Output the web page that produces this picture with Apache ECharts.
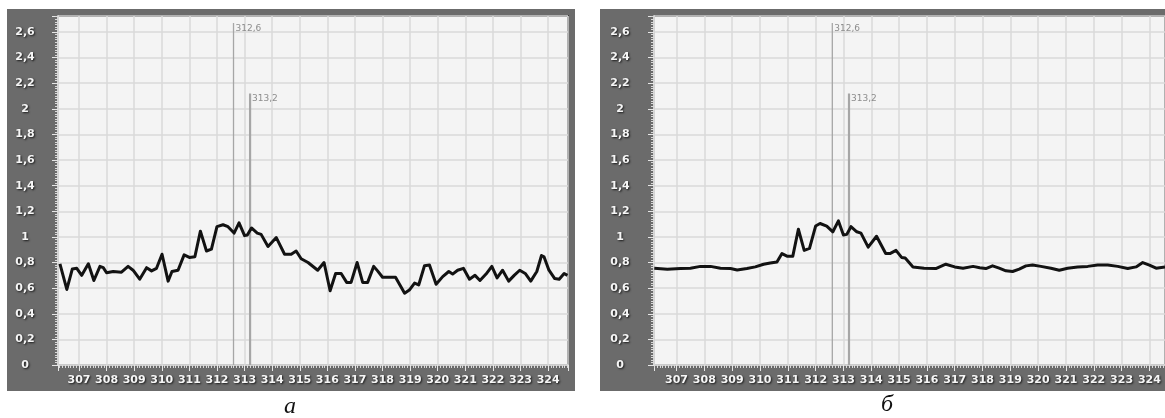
<!DOCTYPE html>
<html>
<head>
<meta charset="utf-8">
<script src="https://cdn.jsdelivr.net/npm/echarts@6/dist/echarts.min.js"></script>
<style>
  html, body { margin: 0; padding: 0; background: #ffffff; }
  #chart { width: 1165px; height: 418px; }
</style>
</head>
<body>
<div id="chart"></div>
<script>
// Spectrum (а): raw signal, wavelength and intensity
const xA = [306.31, 306.56, 306.76, 306.92, 307.10, 307.34, 307.54, 307.76, 307.88, 308.00,
            308.24, 308.54, 308.78, 308.96, 309.20, 309.45, 309.63, 309.81, 310.01, 310.23,
            310.37, 310.59, 310.81, 311.00, 311.20, 311.40, 311.62, 311.80, 312.00, 312.22,
            312.40, 312.62, 312.80, 313.00, 313.10, 313.25, 313.46, 313.60, 313.85, 314.15,
            314.45, 314.69, 314.87, 315.05, 315.30, 315.65, 315.88, 316.10, 316.30, 316.50,
            316.70, 316.86, 317.08, 317.28, 317.46, 317.68, 317.82, 318.00, 318.47, 318.80,
            318.97, 319.16, 319.31, 319.52, 319.70, 319.94, 320.18, 320.40, 320.54, 320.72,
            320.93, 321.15, 321.35, 321.53, 321.75, 321.96, 322.15, 322.35, 322.57, 322.77,
            322.97, 323.17, 323.37, 323.59, 323.76, 323.85, 324.03, 324.24, 324.40, 324.58,
            324.70];
const yA = [0.79, 0.59, 0.75, 0.755, 0.70, 0.79, 0.66, 0.77, 0.76, 0.72,
            0.73, 0.725, 0.77, 0.74, 0.67, 0.76, 0.735, 0.755, 0.865, 0.655,
            0.73, 0.74, 0.86, 0.84, 0.845, 1.045, 0.89, 0.905, 1.08, 1.095,
            1.08, 1.03, 1.11, 1.01, 1.015, 1.07, 1.03, 1.02, 0.925, 0.995,
            0.865, 0.865, 0.89, 0.83, 0.80, 0.74, 0.80, 0.58, 0.715, 0.715,
            0.645, 0.645, 0.80, 0.645, 0.645, 0.77, 0.735, 0.685, 0.685, 0.56,
            0.585, 0.64, 0.625, 0.775, 0.78, 0.63, 0.69, 0.73, 0.71, 0.74,
            0.755, 0.67, 0.70, 0.66, 0.71, 0.77, 0.68, 0.74, 0.655, 0.70,
            0.74, 0.715, 0.655, 0.73, 0.855, 0.845, 0.74, 0.675, 0.67, 0.715,
            0.70];

// Spectrum (б): smoothed signal
const xB = [306.20, 306.67, 307.14, 307.50, 307.86, 308.22, 308.58, 308.94, 309.18, 309.53,
            309.83, 310.13, 310.37, 310.61, 310.79, 310.97, 311.18, 311.38, 311.59, 311.78,
            312.00, 312.16, 312.40, 312.62, 312.82, 313.00, 313.12, 313.27, 313.48, 313.63,
            313.89, 314.19, 314.52, 314.67, 314.89, 315.09, 315.22, 315.36, 315.50, 315.90,
            316.32, 316.68, 317.00, 317.30, 317.66, 317.90, 318.12, 318.36, 318.60, 318.84,
            319.08, 319.32, 319.56, 319.80, 320.10, 320.46, 320.76, 321.06, 321.42, 321.78,
            322.14, 322.50, 322.86, 323.22, 323.52, 323.76, 324.00, 324.24, 324.56];
const yB = [0.755, 0.748, 0.753, 0.756, 0.77, 0.77, 0.756, 0.753, 0.742, 0.753,
            0.766, 0.787, 0.797, 0.805, 0.87, 0.85, 0.85, 1.06, 0.895, 0.91,
            1.085, 1.105, 1.085, 1.04, 1.125, 1.015, 1.02, 1.08, 1.04, 1.03,
            0.92, 1.005, 0.87, 0.87, 0.895, 0.84, 0.835, 0.80, 0.766, 0.756,
            0.753, 0.787, 0.766, 0.756, 0.77, 0.76, 0.753, 0.774, 0.756, 0.735,
            0.73, 0.748, 0.774, 0.78, 0.77, 0.756, 0.74, 0.756, 0.766, 0.77,
            0.78, 0.78, 0.77, 0.753, 0.766, 0.80, 0.78, 0.756, 0.766];

// Vertical cursor lines with their captions
const markerX = [312.6, 313.2];
const markerTop = [2.67, 2.12];
const markerText = ['312,6', '313,2'];
const markerWidth = [1.3, 2.2];

const captions = ['а', 'б'];

// Axis ranges of the two panels
const xRangeA = [306.24, 324.72];
const xRangeB = [306.19, 324.56];
const yRange = [0, 2.725];

const zip = (xs, ys) => xs.map((x, i) => [x, ys[i]]);

const labelFont = {
  color: '#f6f6f6',
  fontFamily: 'DejaVu Sans',
  fontWeight: 'bold',
  fontSize: 11,
  textShadowColor: '#1a1a1a',
  textShadowBlur: 2,
  textShadowOffsetX: 1,
  textShadowOffsetY: 1
};

function xAxisFor(idx, range) {
  return {
    type: 'value', gridIndex: idx, min: range[0], max: range[1],
    minInterval: 1, maxInterval: 1, splitNumber: 18,
    axisLine: { show: true, onZero: false, lineStyle: { color: '#d4d4d4', width: 1.5 } },
    axisTick: { show: true, length: 6, lineStyle: { color: '#e6e6e6' } },
    minorTick: { show: true, splitNumber: 10, length: 3, lineStyle: { color: '#dadada' } },
    splitLine: { show: true, lineStyle: { color: '#dadada', width: 1.5 } },
    axisLabel: Object.assign({
      margin: 10, showMinLabel: false, showMaxLabel: false,
      formatter: v => Math.abs(v - Math.round(v)) < 1e-6 ? String(Math.round(v)) : ''
    }, labelFont)
  };
}

function yAxisFor(idx, margin) {
  return {
    type: 'value', gridIndex: idx, min: yRange[0], max: yRange[1], interval: 0.2,
    axisLine: { show: true, lineStyle: { color: '#d4d4d4', width: 2 } },
    axisTick: { show: true, length: 6, lineStyle: { color: '#e6e6e6' } },
    minorTick: { show: true, splitNumber: 10, length: 3, lineStyle: { color: '#dadada' } },
    splitLine: { show: true, lineStyle: { color: '#dadada', width: 1.5 } },
    axisLabel: Object.assign({
      margin: margin, align: 'center', showMaxLabel: false,
      formatter: v => v > 2.65 ? '' : String(+v.toFixed(1)).replace('.', ',')
    }, labelFont)
  };
}

function spectrum(idx, xs, ys) {
  return {
    type: 'line', xAxisIndex: idx, yAxisIndex: idx, data: zip(xs, ys),
    showSymbol: false, z: 5, animation: false,
    lineStyle: { color: '#121212', width: 3, join: 'round' }
  };
}

function markers(idx) {
  return markerX.map((x, i) => ({
    type: 'line', xAxisIndex: idx, yAxisIndex: idx, z: 3, animation: false,
    lineStyle: { color: '#a6a6a6', width: markerWidth[i] },
    symbol: 'circle', symbolSize: 0.01, showSymbol: true,
    itemStyle: { color: 'rgba(0,0,0,0)' },
    data: [
      [x, yRange[0]],
      { value: [x, markerTop[i]],
        label: { show: true, formatter: markerText[i], position: [2, 1],
                 align: 'left', verticalAlign: 'top',
                 color: '#8c8c8c', fontFamily: 'DejaVu Sans', fontSize: 9 } }
    ]
  }));
}

const chart = echarts.init(document.getElementById('chart'), null, { renderer: 'canvas' });

chart.setOption({
  backgroundColor: '#ffffff',
  animation: false,
  graphic: [
    { type: 'rect', z: -10, shape: { x: 7, y: 9, width: 568, height: 382 }, style: { fill: '#6b6b6b' } },
    { type: 'rect', z: -10, shape: { x: 600, y: 9, width: 565, height: 382 }, style: { fill: '#6b6b6b' } },
    { type: 'text', x: 290, y: 407, style: { text: captions[0], fill: '#111', font: 'italic 24px "Liberation Serif"', textAlign: 'center', textVerticalAlign: 'middle' } },
    { type: 'text', x: 887, y: 405, style: { text: captions[1], fill: '#111', font: 'italic 24px "Liberation Serif"', textAlign: 'center', textVerticalAlign: 'middle' } }
  ],
  grid: [
    { left: 58, top: 16, width: 510, height: 349, show: true, backgroundColor: '#f4f4f4', borderColor: '#3a3a3a', borderWidth: 2 },
    { left: 654, top: 16, width: 511, height: 349, show: true, backgroundColor: '#f4f4f4', borderColor: '#3a3a3a', borderWidth: 2 }
  ],
  xAxis: [xAxisFor(0, xRangeA), xAxisFor(1, xRangeB)],
  yAxis: [yAxisFor(0, 33), yAxisFor(1, 34)],
  series: [
    ...markers(0),
    ...markers(1),
    spectrum(0, xA, yA),
    spectrum(1, xB, yB)
  ]
});
</script>
</body>
</html>
